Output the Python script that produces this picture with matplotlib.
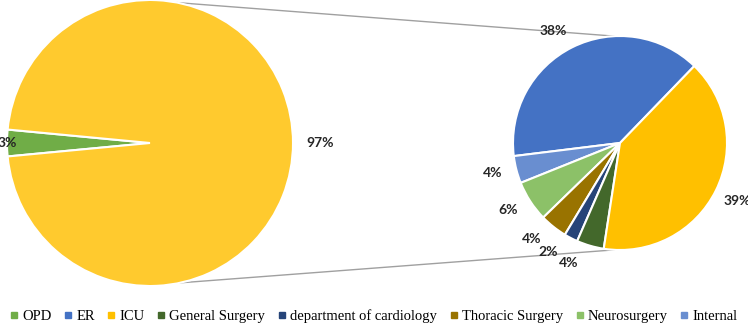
import numpy as np
import matplotlib
matplotlib.use("Agg")
import matplotlib.pyplot as plt
from matplotlib.lines import Line2D
from matplotlib import font_manager as fm

# Main pie: OPD vs everything else (97%)
main_labels = ["OPD", "Other"]
main_values = [3, 97]
main_colors = ["#70AD47", "#FFCA2E"]

# Secondary pie: breakdown of the 97%
sub_labels = ["ER", "Internal", "Neurosurgery", "Thoracic Surgery",
              "department of cardiology", "General Surgery", "ICU"]
sub_values = [38, 4, 6, 4, 2, 4, 39]
sub_colors = ["#4472C4", "#698ED0", "#8CC168", "#997300",
              "#264478", "#43682B", "#FFC000"]

legend_labels = ["OPD", "ER", "ICU", "General Surgery", "department of cardiology",
                 "Thoracic Surgery", "Neurosurgery", "Internal"]
legend_colors = ["#70AD47", "#4472C4", "#FFC000", "#43682B", "#264478",
                 "#997300", "#8CC168", "#698ED0"]

W, H = 748, 324
fig = plt.figure(figsize=(W / 100, H / 100), dpi=100)
ax = fig.add_axes([0, 0, 1, 1])

# pick an upright bold font file explicitly
label_fp = fm.FontProperties(family="DejaVu Sans", weight="bold", size=9.5)
for fam in ["Lato", "Open Sans", "Noto Sans"]:
    cands = [f for f in fm.fontManager.ttflist
             if f.name == fam and f.style == "normal" and f.weight in (700, "bold")]
    if cands:
        label_fp = fm.FontProperties(fname=cands[0].fname, size=10)
        break

# pixel-like coordinates, y up
c1, r1 = (150, 181), 143
c2, r2 = (620, 181), 107

wedge_kw = dict(edgecolor="white", linewidth=1.5)
lab_font = dict(fontproperties=label_fp, color="#262626")

# main pie, OPD slice centred on the left
start1 = 180 - main_values[0] / sum(main_values) * 360 / 2
w1, t1 = ax.pie(main_values, colors=main_colors, startangle=start1,
                center=c1, radius=r1, frame=True, wedgeprops=wedge_kw,
                labels=[f"{v}%" for v in main_values], labeldistance=1.0,
                textprops=lab_font)
t1[0].set_ha("center")
# 97% label sits further out
t1[1].set_position((c1[0] + r1 * 1.19, c1[1]))
t1[1].set_ha("center")

# secondary pie
sub_total = sum(sub_values)
start2 = 46
w2, t2 = ax.pie(sub_values, colors=sub_colors, startangle=start2,
                center=c2, radius=r2, frame=True, wedgeprops=wedge_kw,
                labels=[f"{v}%" for v in sub_values], labeldistance=1.22,
                textprops=lab_font)

# nudge the crowded small labels apart
nudge = [4, -1, -2, -4, -6, -7, 0]
ang = start2
for txt, v, dn in zip(t2, sub_values, nudge):
    span = v / sub_total * 360
    a = np.deg2rad(ang + span / 2 + dn)
    txt.set_position((c2[0] + 1.22 * r2 * np.cos(a), c2[1] + 1.22 * r2 * np.sin(a)))
    txt.set_ha("center")
    ang += span

# connector lines
for a_main, a_sub in [(79, 93), (-78, 267)]:
    p = np.deg2rad(a_main)
    q = np.deg2rad(a_sub)
    ax.plot([c1[0] + r1 * np.cos(p), c2[0] + r2 * np.cos(q)],
            [c1[1] + r1 * np.sin(p), c2[1] + r2 * np.sin(q)],
            color="#A0A0A0", linewidth=1.0, zorder=0)

ax.set_xlim(0, W)
ax.set_ylim(0, H)
ax.set_aspect("equal")
ax.axis("off")

handles = [Line2D([], [], marker="s", linestyle="none", markersize=4,
                  markerfacecolor=c, markeredgecolor=c) for c in legend_colors]
fig.legend(handles, legend_labels, loc="center", bbox_to_anchor=(0.5, 8 / H),
           ncol=8, frameon=False, handlelength=0.5, handletextpad=0.3,
           columnspacing=0.9, prop=dict(family="Liberation Serif", size=10.5))

fig.savefig("out.png", dpi=100)
